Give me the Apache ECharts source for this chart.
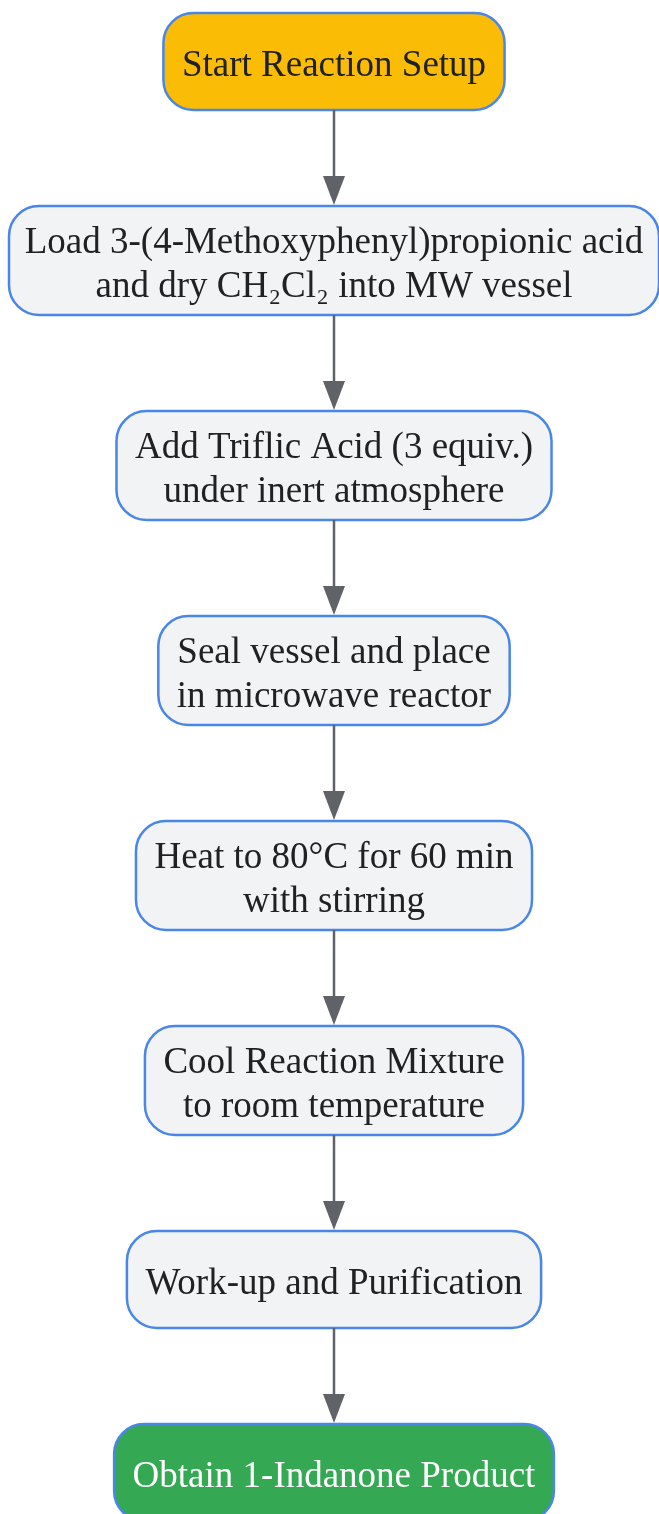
<!DOCTYPE html>
<html>
<head>
<meta charset="utf-8">
<script src="https://cdn.jsdelivr.net/npm/echarts@6/dist/echarts.min.js"></script>
<style>
html,body{margin:0;padding:0;background:#fff}
#main{width:659px;height:1514px}
</style>
</head>
<body>
<div id="main"></div>
<script>
// flow steps, top to bottom
const steps=[
  'Start Reaction Setup',
  'Load 3-(4-Methoxyphenyl)propionic acid\nand dry CH\u2082Cl\u2082 into MW vessel',
  'Add Triflic Acid (3 equiv.)\nunder inert atmosphere',
  'Seal vessel and place\nin microwave reactor',
  'Heat to 80\u00b0C for 60 min\nwith stirring',
  'Cool Reaction Mixture\nto room temperature',
  'Work-up and Purification',
  'Obtain 1-Indanone Product'
];
const stepKind=['start','step','step','step','step','step','step','end'];

// styles per kind
const kindStyle={
  start:{fill:'#FBBC05',text:'#202124'},
  step:{fill:'#F1F3F4',text:'#202124'},
  end:{fill:'#34A853',text:'#ffffff'}
};
const FONT='37px "Liberation Serif", "Times New Roman", serif';
const W=659,H=1514,CX=334,GAP=96,TOP=13,ARROW_H=30,ARROW_W=22;

// measure labels to size boxes
const ctx=document.createElement('canvas').getContext('2d');
ctx.font=FONT;
const layout=[];
let y=TOP;
steps.forEach(s=>{
  const lines=s.split('\n');
  const h=lines.length>1?109:97;
  const tw=Math.max(...lines.map(l=>ctx.measureText(l).width));
  const w=Math.min(tw+37,650);
  layout.push({top:y,h:h,w:w});
  y+=h+GAP;
});

const chart=echarts.init(document.getElementById('main'));
chart.setOption({
  animation:false,
  grid:{left:0,right:0,top:0,bottom:0},
  xAxis:{type:'value',min:0,max:W,show:false},
  yAxis:{type:'value',min:0,max:H,inverse:true,show:false},
  series:[{
    type:'custom',
    coordinateSystem:'cartesian2d',
    clip:false,
    data:steps.map((s,i)=>[CX,layout[i].top+layout[i].h/2,i]),
    renderItem:function(params,api){
      const i=api.value(2);
      const L=layout[i];
      const c=api.coord([api.value(0),api.value(1)]);
      const sz=api.size([L.w,L.h]);
      const st=kindStyle[stepKind[i]];
      const children=[{
        type:'rect',
        shape:{x:c[0]-sz[0]/2,y:c[1]-sz[1]/2,width:sz[0],height:sz[1],r:30},
        style:{fill:st.fill,stroke:'#4A86E8',lineWidth:2.5}
      },{
        type:'text',
        style:{text:steps[i],x:c[0],y:c[1]+5,align:'center',verticalAlign:'middle',
          font:FONT,lineHeight:44,fill:st.text}
      }];
      if(i<steps.length-1){
        const bottom=api.coord([CX,L.top+L.h])[1];
        const nextTop=api.coord([CX,layout[i+1].top])[1];
        children.push({
          type:'line',
          shape:{x1:c[0],y1:bottom,x2:c[0],y2:nextTop-ARROW_H},
          style:{stroke:'#5F6368',lineWidth:2.5}
        },{
          type:'polygon',
          shape:{points:[[c[0]-ARROW_W/2,nextTop-ARROW_H],[c[0]+ARROW_W/2,nextTop-ARROW_H],[c[0],nextTop-1]]},
          style:{fill:'#5F6368'}
        });
      }
      return {type:'group',children:children};
    }
  }]
});
</script>
</body>
</html>
